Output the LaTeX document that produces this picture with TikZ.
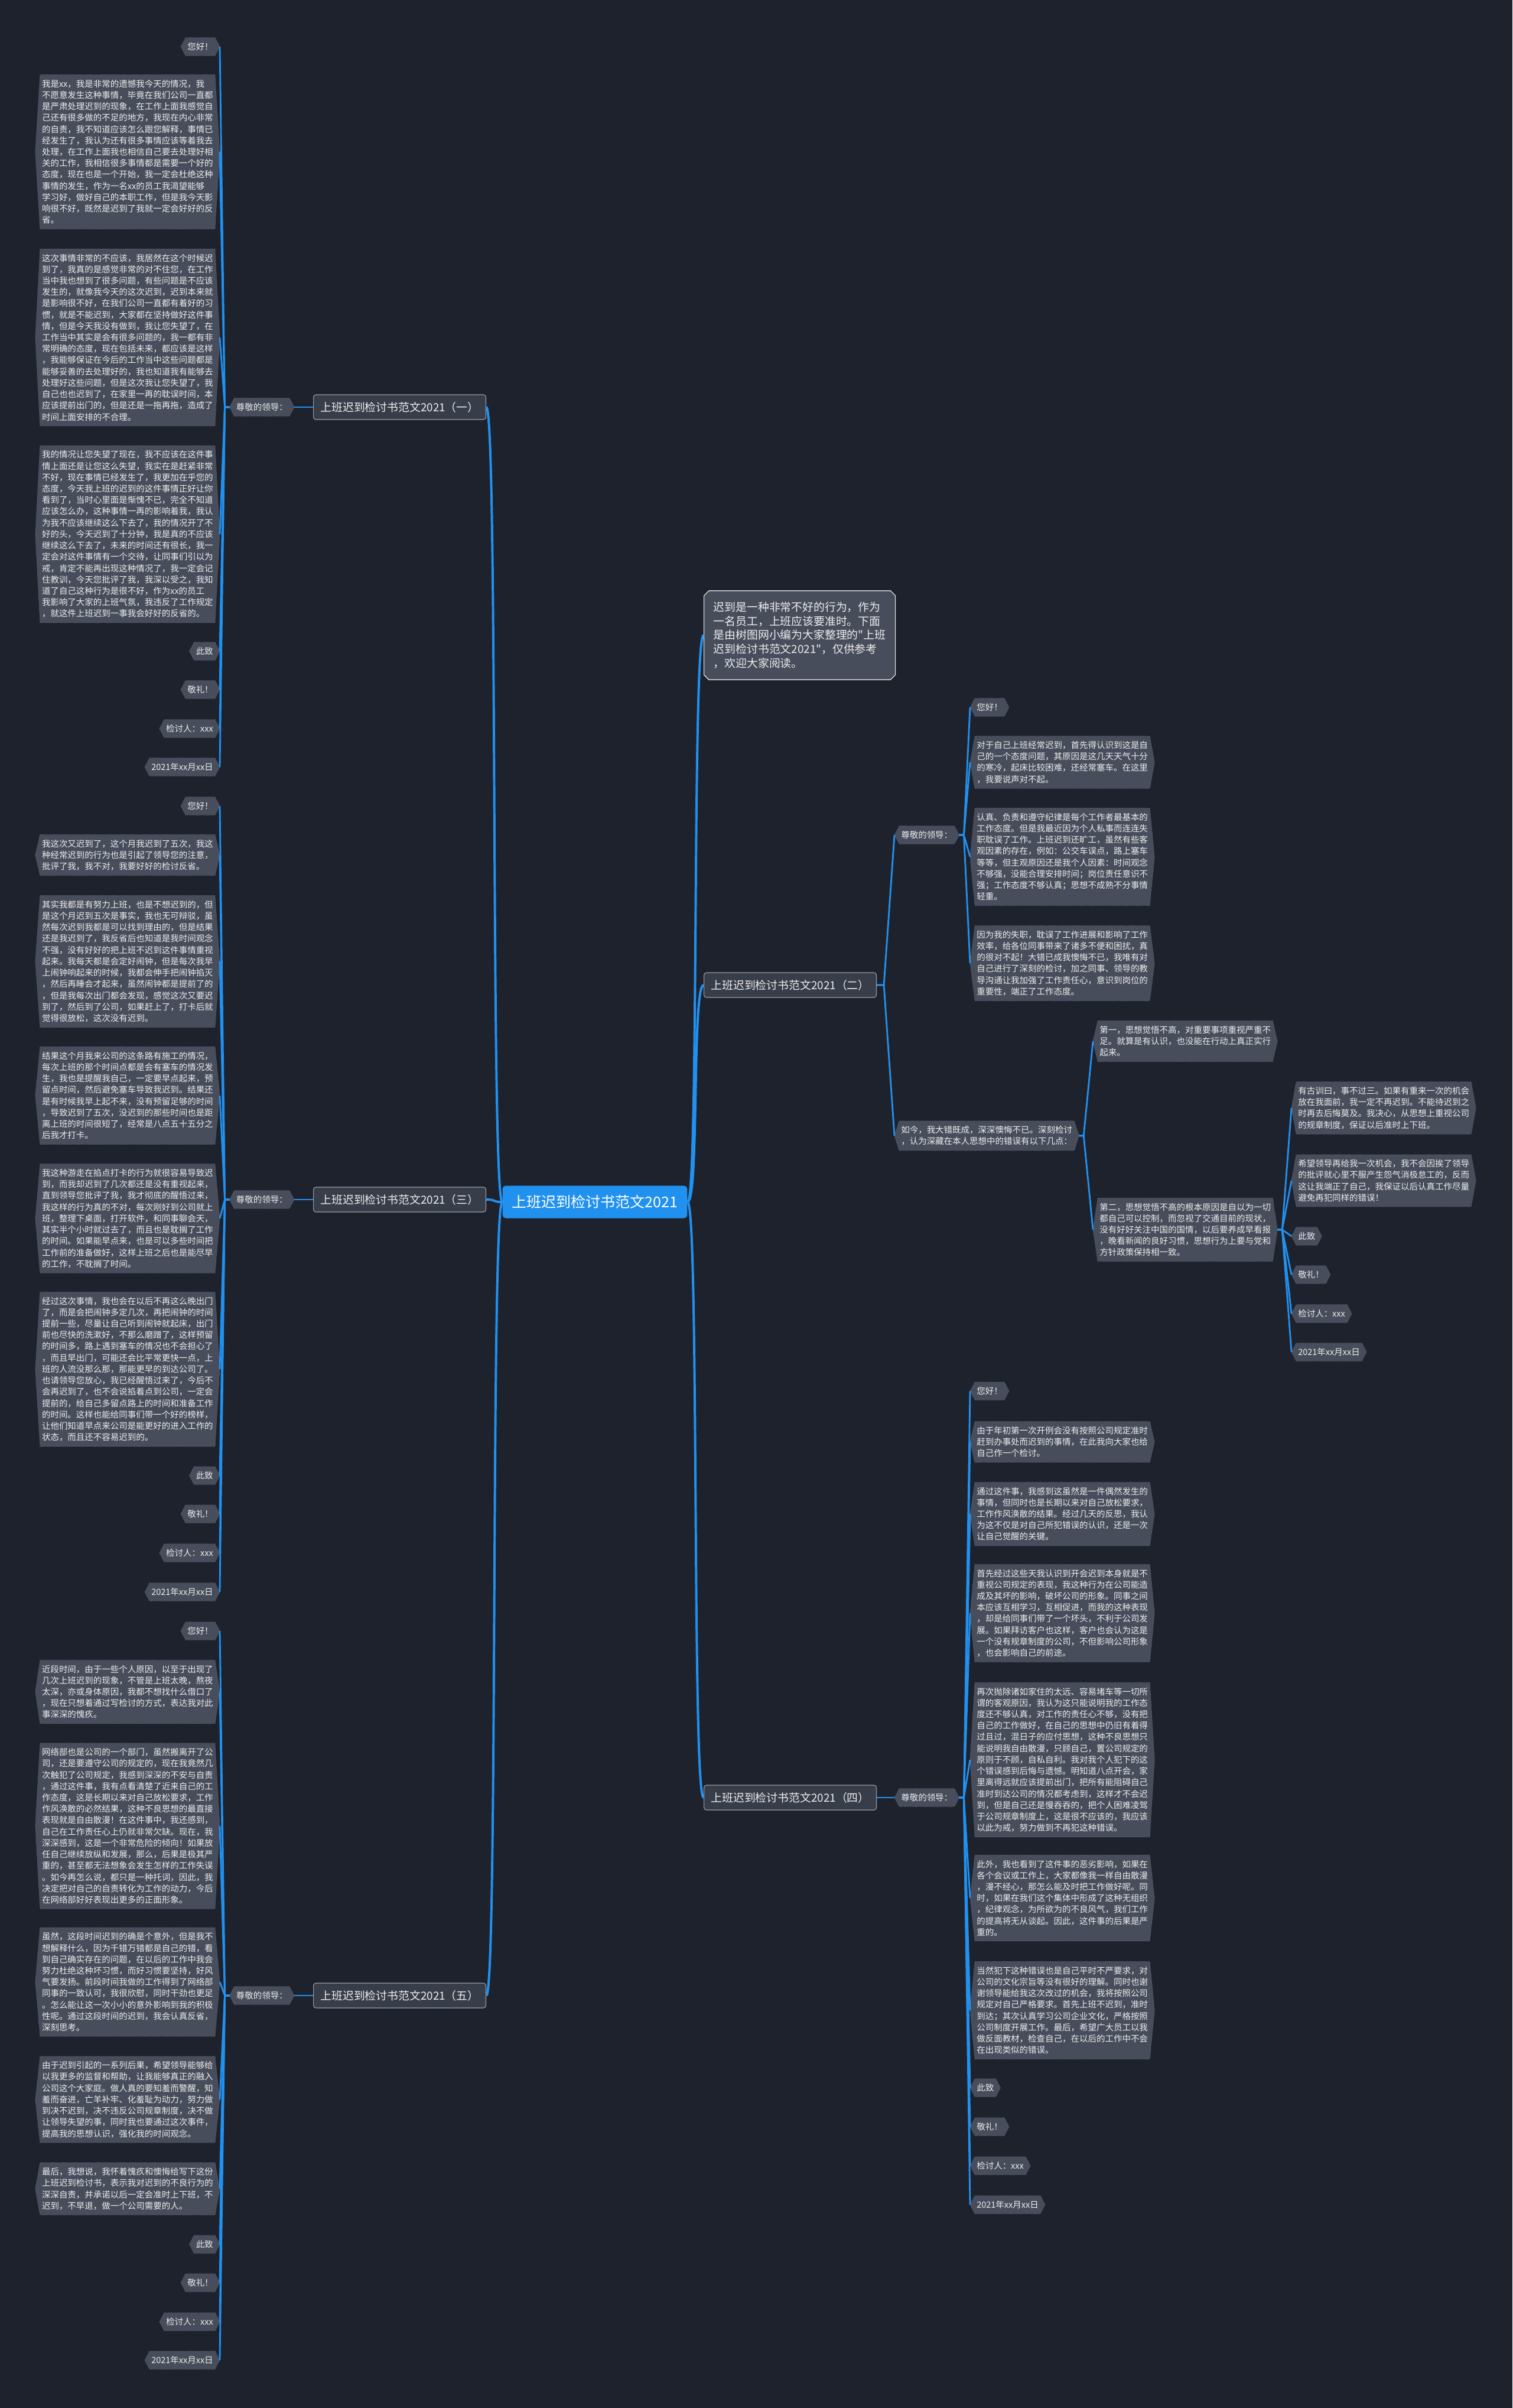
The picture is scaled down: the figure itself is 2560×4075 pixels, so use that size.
\documentclass[tikz,border=0pt]{standalone}
\usepackage{fontspec}
\newfontfamily\cjk{Noto Sans CJK SC}
\usetikzlibrary{backgrounds,shapes.misc}
\definecolor{bgc}{RGB}{30,34,45}
\definecolor{leafc}{RGB}{71,77,91}
\definecolor{leafedge}{RGB}{105,111,125}
\definecolor{linkc}{RGB}{33,145,240}
\definecolor{topicc}{RGB}{56,61,74}
\definecolor{topicedge}{RGB}{150,156,168}
\definecolor{txtc}{RGB}{238,238,238}
\newcommand\leaffont{\cjk\fontsize{10.3pt}{13.66pt}\selectfont}
\newcommand\topicfont{\cjk\fontsize{13.4pt}{16.9pt}\selectfont}
\newcommand\rootfont{\cjk\fontsize{17.8pt}{21pt}\selectfont}
\tikzset{
  leaf/.style={font=\leaffont,text=txtc,align=left,inner xsep=0.75mm,inner ysep=5.9pt},
  lleaf/.style={leaf,anchor=east},
  rleaf/.style={leaf,anchor=west},
  topic/.style={font=\topicfont,text=txtc,fill=topicc,draw=topicedge,line width=0.8pt,rounded corners=3pt,inner xsep=3mm,minimum height=1.05cm},
  intro/.style={font=\topicfont,text=txtc,fill=leafc,draw=txtc,line width=0.8pt,align=left,chamfered rectangle,chamfered rectangle xsep=3pt,inner xsep=3mm,inner ysep=10.5pt},
  root/.style={font=\rootfont,text=white,fill=linkc,rounded corners=4pt,inner xsep=4mm,minimum height=1.375cm},
  link/.style={draw=linkc,line width=2pt},
  trunk/.style={draw=linkc,line width=2.8pt},
  hexbody/.style={fill=leafc,draw=leafedge,densely dotted,line width=0.5pt}
}
\begin{document}
\begin{tikzpicture}[x=0.025cm,y=-0.025cm]
  \useasboundingbox (0,0) rectangle (2560,4075);

  \node[root] (root) at (1007,2034) {上班迟到检讨书范文2021};

  % 范文（一）
  \node[topic,anchor=west] (b1) at (530,689) {上班迟到检讨书范文2021（一）};
  \node[lleaf] (z1) at (490,689) {尊敬的领导：};
  \node[lleaf] (hi1) at (364,79) {您好！};
  \node[lleaf] (p1a) at (364,257) {我是xx，我是非常的遗憾我今天的情况，我\\不愿意发生这种事情，毕竟在我们公司一直都\\是严肃处理迟到的现象，在工作上面我感觉自\\己还有很多做的不足的地方，我现在内心非常\\的自责，我不知道应该怎么跟您解释，事情已\\经发生了，我认为还有很多事情应该等着我去\\处理，在工作上面我也相信自己要去处理好相\\关的工作，我相信很多事情都是需要一个好的\\态度，现在也是一个开始，我一定会杜绝这种\\事情的发生，作为一名xx的员工我渴望能够\\学习好，做好自己的本职工作，但是我今天影\\响很不好，既然是迟到了我就一定会好好的反\\省。};
  \node[lleaf] (p1b) at (364,571) {这次事情非常的不应该，我居然在这个时候迟\\到了，我真的是感觉非常的对不住您，在工作\\当中我也想到了很多问题，有些问题是不应该\\发生的，就像我今天的这次迟到，迟到本来就\\是影响很不好，在我们公司一直都有着好的习\\惯，就是不能迟到，大家都在坚持做好这件事\\情，但是今天我没有做到，我让您失望了，在\\工作当中其实是会有很多问题的，我一都有非\\常明确的态度，现在包括未来，都应该是这样\\，我能够保证在今后的工作当中这些问题都是\\能够妥善的去处理好的，我也知道我有能够去\\处理好这些问题，但是这次我让您失望了，我\\自己也也迟到了，在家里一再的耽误时间，本\\应该提前出门的，但是还是一拖再拖，造成了\\时间上面安排的不合理。};
  \node[lleaf] (p1c) at (364,904) {我的情况让您失望了现在，我不应该在这件事\\情上面还是让您这么失望，我实在是赶紧非常\\不好，现在事情已经发生了，我更加在乎您的\\态度，今天我上班的迟到的这件事情正好让你\\看到了，当时心里面是惭愧不已，完全不知道\\应该怎么办，这种事情一再的影响着我，我认\\为我不应该继续这么下去了，我的情况开了不\\好的头，今天迟到了十分钟，我是真的不应该\\继续这么下去了，未来的时间还有很长，我一\\定会对这件事情有一个交待，让同事们引以为\\戒，肯定不能再出现这种情况了，我一定会记\\住教训，今天您批评了我，我深以受之，我知\\道了自己这种行为是很不好，作为xx的员工\\我影响了大家的上班气氛，我违反了工作规定\\，就这件上班迟到一事我会好好的反省的。};
  \node[lleaf] (cz1) at (364,1102) {此致};
  \node[lleaf] (jl1) at (364,1167) {敬礼！};
  \node[lleaf] (jt1) at (364,1233) {检讨人：xxx};
  \node[lleaf] (dt1) at (364,1298) {2021年xx月xx日};

  % 范文（三）
  \node[topic,anchor=west] (b3) at (530,2030) {上班迟到检讨书范文2021（三）};
  \node[lleaf] (z3) at (490,2030) {尊敬的领导：};
  \node[lleaf] (hi3) at (364,1364) {您好！};
  \node[lleaf] (p3a) at (364,1447) {我这次又迟到了，这个月我迟到了五次，我这\\种经常迟到的行为也是引起了领导您的注意，\\批评了我，我不对，我要好好的检讨反省。};
  \node[lleaf] (p3b) at (364,1627) {其实我都是有努力上班，也是不想迟到的，但\\是这个月迟到五次是事实，我也无可辩驳，虽\\然每次迟到我都是可以找到理由的，但是结果\\还是我迟到了，我反省后也知道是我时间观念\\不强，没有好好的把上班不迟到这件事情重视\\起来。我每天都是会定好闹钟，但是每次我早\\上闹钟响起来的时候，我都会伸手把闹钟掐灭\\，然后再睡会才起来，虽然闹钟都是提前了的\\，但是我每次出门都会发现，感觉这次又要迟\\到了，然后到了公司，如果赶上了，打卡后就\\觉得很放松，这次没有迟到。};
  \node[lleaf] (p3c) at (364,1854) {结果这个月我来公司的这条路有施工的情况，\\每次上班的那个时间点都是会有塞车的情况发\\生，我也是提醒我自己，一定要早点起来，预\\留点时间，然后避免塞车导致我迟到。结果还\\是有时候我早上起不来，没有预留足够的时间\\，导致迟到了五次，没迟到的那些时间也是距\\离上班的时间很短了，经常是八点五十五分之\\后我才打卡。};
  \node[lleaf] (p3d) at (364,2062) {我这种游走在掐点打卡的行为就很容易导致迟\\到，而我却迟到了几次都还是没有重视起来，\\直到领导您批评了我，我才彻底的醒悟过来，\\我这样的行为真的不对，每次刚好到公司就上\\班，整理下桌面，打开软件，和同事聊会天，\\其实半个小时就过去了，而且也是耽搁了工作\\的时间。如果能早点来，也是可以多些时间把\\工作前的准备做好，这样上班之后也是能尽早\\的工作，不耽搁了时间。};
  \node[lleaf] (p3e) at (364,2317) {经过这次事情，我也会在以后不再这么晚出门\\了，而是会把闹钟多定几次，再把闹钟的时间\\提前一些，尽量让自己听到闹钟就起床，出门\\前也尽快的洗漱好，不那么磨蹭了，这样预留\\的时间多，路上遇到塞车的情况也不会担心了\\，而且早出门，可能还会比平常更快一点，上\\班的人流没那么那，那能更早的到达公司了。\\也请领导您放心，我已经醒悟过来了，今后不\\会再迟到了，也不会说掐着点到公司，一定会\\提前的，给自己多留点路上的时间和准备工作\\的时间。这样也能给同事们带一个好的榜样，\\让他们知道早点来公司是能更好的进入工作的\\状态，而且还不容易迟到的。};
  \node[lleaf] (cz3) at (364,2497) {此致};
  \node[lleaf] (jl3) at (364,2562) {敬礼！};
  \node[lleaf] (jt3) at (364,2628) {检讨人：xxx};
  \node[lleaf] (dt3) at (364,2694) {2021年xx月xx日};

  % 范文（五）
  \node[topic,anchor=west] (b5) at (530,3377) {上班迟到检讨书范文2021（五）};
  \node[lleaf] (z5) at (490,3377) {尊敬的领导：};
  \node[lleaf] (hi5) at (364,2760) {您好！};
  \node[lleaf] (p5a) at (364,2863) {近段时间，由于一些个人原因，以至于出现了\\几次上班迟到的现象，不管是上班太晚，熬夜\\太深，亦或身体原因，我都不想找什么借口了\\，现在只想着通过写检讨的方式，表达我对此\\事深深的愧疚。};
  \node[lleaf] (p5b) at (364,3090) {网络部也是公司的一个部门，虽然搬离开了公\\司，还是要遵守公司的规定的，现在我竟然几\\次触犯了公司规定，我感到深深的不安与自责\\，通过这件事，我有点看清楚了近来自己的工\\作态度，这是长期以来对自己放松要求，工作\\作风涣散的必然结果，这种不良思想的最直接\\表现就是自由散漫！在这件事中，我还感到，\\自己在工作责任心上仍就非常欠缺。现在，我\\深深感到，这是一个非常危险的倾向！如果放\\任自己继续放纵和发展，那么，后果是极其严\\重的，甚至都无法想象会发生怎样的工作失误\\。如今再怎么说，都只是一种托词，因此，我\\决定把对自己的自责转化为工作的动力，今后\\在网络部好好表现出更多的正面形象。};
  \node[lleaf] (p5c) at (364,3354) {虽然，这段时间迟到的确是个意外，但是我不\\想解释什么，因为千错万错都是自己的错，看\\到自己确实存在的问题，在以后的工作中我会\\努力杜绝这种坏习惯，而好习惯要坚持，好风\\气要发扬。前段时间我做的工作得到了网络部\\同事的一致认可，我很欣慰，同时干劲也更足\\。怎么能让这一次小小的意外影响到我的积极\\性呢。通过这段时间的迟到，我会认真反省，\\深刻思考。};
  \node[lleaf] (p5d) at (364,3553) {由于迟到引起的一系列后果，希望领导能够给\\以我更多的监督和帮助，让我能够真正的融入\\公司这个大家庭。做人真的要知羞而警醒，知\\羞而奋进，亡羊补牢、化羞耻为动力，努力做\\到决不迟到，决不违反公司规章制度，决不做\\让领导失望的事，同时我也要通过这次事件，\\提高我的思想认识，强化我的时间观念。};
  \node[lleaf] (p5e) at (364,3704) {最后，我想说，我怀着愧疚和懊悔给写下这份\\上班迟到检讨书，表示我对迟到的不良行为的\\深深自责，并承诺以后一定会准时上下班，不\\迟到，不早退，做一个公司需要的人。};
  \node[lleaf] (cz5) at (364,3798) {此致};
  \node[lleaf] (jl5) at (364,3863) {敬礼！};
  \node[lleaf] (jt5) at (364,3929) {检讨人：xxx};
  \node[lleaf] (dt5) at (364,3994) {2021年xx月xx日};

  % 引言
  \node[intro,anchor=west] (intro) at (1191,1075) {迟到是一种非常不好的行为，作为\\一名员工，上班应该要准时。下面\\是由树图网小编为大家整理的"上班\\迟到检讨书范文2021"，仅供参考\\，欢迎大家阅读。};

  % 范文（二）
  \node[topic,anchor=west] (b2) at (1191,1667) {上班迟到检讨书范文2021（二）};
  \node[rleaf] (z2) at (1522,1413) {尊敬的领导：};
  \node[rleaf] (hi2) at (1650,1197) {您好！};
  \node[rleaf] (p2a) at (1650,1290) {对于自己上班经常迟到，首先得认识到这是自\\己的一个态度问题，其原因是这几天天气十分\\的寒冷，起床比较困难，还经常塞车。在这里\\，我要说声对不起。};
  \node[rleaf] (p2b) at (1650,1450) {认真、负责和遵守纪律是每个工作者最基本的\\工作态度。但是我最近因为个人私事而连连失\\职耽误了工作。上班迟到还旷工，虽然有些客\\观因素的存在，例如：公交车误点，路上塞车\\等等，但主观原因还是我个人因素：时间观念\\不够强，没能合理安排时间；岗位责任意识不\\强；工作态度不够认真；思想不成熟不分事情\\轻重。};
  \node[rleaf] (p2c) at (1650,1630) {因为我的失职，耽误了工作进展和影响了工作\\效率，给各位同事带来了诸多不便和困扰，真\\的很对不起！大错已成我懊悔不已，我唯有对\\自己进行了深刻的检讨，加之同事、领导的教\\导沟通让我加强了工作责任心，意识到岗位的\\重要性，端正了工作态度。};
  \node[rleaf] (now2) at (1522,1922) {如今，我大错既成，深深懊悔不已。深刻检讨\\，认为深藏在本人思想中的错误有以下几点：};
  \node[rleaf] (pt1) at (1858,1762) {第一，思想觉悟不高，对重要事项重视严重不\\足。就算是有认识，也没能在行动上真正实行\\起来。};
  \node[rleaf] (pt2) at (1858,2081) {第二，思想觉悟不高的根本原因是自以为一切\\都自己可以控制，而忽视了交通目前的现状，\\没有好好关注中国的国情，以后要养成早看报\\，晚看新闻的良好习惯，思想行为上要与党和\\方针政策保持相一致。};
  \node[rleaf] (q2a) at (2194,1875) {有古训曰，事不过三。如果有重来一次的机会\\放在我面前，我一定不再迟到。不能待迟到之\\时再去后悔莫及。我决心，从思想上重视公司\\的规章制度，保证以后准时上下班。};
  \node[rleaf] (q2b) at (2194,1998) {希望领导再给我一次机会，我不会因挨了领导\\的批评就心里不服产生怨气消极怠工的，反而\\这让我端正了自己，我保证以后认真工作尽量\\避免再犯同样的错误！};
  \node[rleaf] (cz2) at (2194,2092) {此致};
  \node[rleaf] (jl2) at (2194,2157) {敬礼！};
  \node[rleaf] (jt2) at (2194,2223) {检讨人：xxx};
  \node[rleaf] (dt2) at (2194,2288) {2021年xx月xx日};

  % 范文（四）
  \node[topic,anchor=west] (b4) at (1191,3042) {上班迟到检讨书范文2021（四）};
  \node[rleaf] (z4) at (1522,3042) {尊敬的领导：};
  \node[rleaf] (hi4) at (1650,2354) {您好！};
  \node[rleaf] (p4a) at (1650,2440) {由于年初第一次开例会没有按照公司规定准时\\赶到办事处而迟到的事情，在此我向大家也给\\自己作一个检讨。};
  \node[rleaf] (p4b) at (1650,2562) {通过这件事，我感到这虽然是一件偶然发生的\\事情，但同时也是长期以来对自己放松要求，\\工作作风涣散的结果。经过几天的反思，我认\\为这不仅是对自己所犯错误的认识，还是一次\\让自己觉醒的关键。};
  \node[rleaf] (p4c) at (1650,2730) {首先经过这些天我认识到开会迟到本身就是不\\重视公司规定的表现，我这种行为在公司能造\\成及其坏的影响，破坏公司的形象。同事之间\\本应该互相学习，互相促进，而我的这种表现\\，却是给同事们带了一个坏头，不利于公司发\\展。如果拜访客户也这样，客户也会认为这是\\一个没有规章制度的公司，不但影响公司形象\\，也会影响自己的前途。};
  \node[rleaf] (p4d) at (1650,2978) {再次抛除诸如家住的太远、容易堵车等一切所\\谓的客观原因，我认为这只能说明我的工作态\\度还不够认真，对工作的责任心不够，没有把\\自己的工作做好，在自己的思想中仍旧有着得\\过且过，混日子的应付思想，这种不良思想只\\能说明我自由散漫，只顾自己，置公司规定的\\原则于不顾，自私自利。我对我个人犯下的这\\个错误感到后悔与遗憾。明知道八点开会，家\\里离得远就应该提前出门，把所有能阻碍自己\\准时到达公司的情况都考虑到，这样才不会迟\\到，但是自己还是慢吞吞的，把个人困难凌驾\\于公司规章制度上，这是很不应该的，我应该\\以此为戒，努力做到不再犯这种错误。};
  \node[rleaf] (p4e) at (1650,3212) {此外，我也看到了这件事的恶劣影响，如果在\\各个会议或工作上，大家都像我一样自由散漫\\，漫不经心，那怎么能及时把工作做好呢。同\\时，如果在我们这个集体中形成了这种无组织\\，纪律观念，为所欲为的不良风气，我们工作\\的提高将无从谈起。因此，这件事的后果是严\\重的。};
  \node[rleaf] (p4f) at (1650,3402) {当然犯下这种错误也是自己平时不严要求，对\\公司的文化宗旨等没有很好的理解。同时也谢\\谢领导能给我这次改过的机会，我将按照公司\\规定对自己严格要求。首先上班不迟到，准时\\到达；其次认真学习公司企业文化，严格按照\\公司制度开展工作。最后，希望广大员工以我\\做反面教材，检查自己，在以后的工作中不会\\在出现类似的错误。};
  \node[rleaf] (cz4) at (1650,3533) {此致};
  \node[rleaf] (jl4) at (1650,3599) {敬礼！};
  \node[rleaf] (jt4) at (1650,3665) {检讨人：xxx};
  \node[rleaf] (dt4) at (1650,3731) {2021年xx月xx日};

  % 主干
  \draw[trunk] (root.west) .. controls +(-20,0) and +(20,0) .. (b1.east);
  \draw[trunk] (root.west) .. controls +(-20,0) and +(20,0) .. (b3.east);
  \draw[trunk] (root.west) .. controls +(-20,0) and +(20,0) .. (b5.east);
  \draw[trunk] (root.east) .. controls +(20,0) and +(-20,0) .. (intro.west);
  \draw[trunk] (root.east) .. controls +(20,0) and +(-20,0) .. (b2.west);
  \draw[trunk] (root.east) .. controls +(20,0) and +(-20,0) .. (b4.west);

  % 分支
  \draw[link] (b1.west) -- ([xshift=2mm]z1.east);
  \draw[link] (b3.west) -- ([xshift=2mm]z3.east);
  \draw[link] (b5.west) -- ([xshift=2mm]z5.east);
  \draw[link] (b4.east) -- ([xshift=-2mm]z4.west);
  \draw[link] (b2.east) -- ++(12,0) -- ([xshift=-2mm]z2.west);
  \draw[link] (b2.east) -- ++(12,0) -- ([xshift=-2mm]now2.west);
  \foreach \n in {hi1,p1a,p1b,p1c,cz1,jl1,jt1,dt1}
    \draw[link] ([xshift=-2mm]z1.west) -- ++(-8,0) -- ([xshift=2mm]\n.east);
  \foreach \n in {hi3,p3a,p3b,p3c,p3d,p3e,cz3,jl3,jt3,dt3}
    \draw[link] ([xshift=-2mm]z3.west) -- ++(-8,0) -- ([xshift=2mm]\n.east);
  \foreach \n in {hi5,p5a,p5b,p5c,p5d,p5e,cz5,jl5,jt5,dt5}
    \draw[link] ([xshift=-2mm]z5.west) -- ++(-8,0) -- ([xshift=2mm]\n.east);
  \foreach \n in {hi2,p2a,p2b,p2c}
    \draw[link] ([xshift=2mm]z2.east) -- ++(8,0) -- ([xshift=-2mm]\n.west);
  \foreach \n in {pt1,pt2}
    \draw[link] ([xshift=2mm]now2.east) -- ++(8,0) -- ([xshift=-2mm]\n.west);
  \foreach \n in {q2a,q2b,cz2,jl2,jt2,dt2}
    \draw[link] ([xshift=2mm]pt2.east) -- ++(8,0) -- ([xshift=-2mm]\n.west);
  \foreach \n in {hi4,p4a,p4b,p4c,p4d,p4e,p4f,cz4,jl4,jt4,dt4}
    \draw[link] ([xshift=2mm]z4.east) -- ++(8,0) -- ([xshift=-2mm]\n.west);

  \begin{scope}[on background layer]
    \fill[bgc] (0,0) rectangle (2560,4075);
    \foreach \n in {z1,hi1,p1a,p1b,p1c,cz1,jl1,jt1,dt1,
                    z3,hi3,p3a,p3b,p3c,p3d,p3e,cz3,jl3,jt3,dt3,
                    z5,hi5,p5a,p5b,p5c,p5d,p5e,cz5,jl5,jt5,dt5,
                    z2,hi2,p2a,p2b,p2c,now2,pt1,pt2,q2a,q2b,cz2,jl2,jt2,dt2,
                    z4,hi4,p4a,p4b,p4c,p4d,p4e,p4f,cz4,jl4,jt4,dt4}
      \filldraw[hexbody] ([xshift=-2mm]\n.west) -- (\n.north west) -- (\n.north east)
        -- ([xshift=2mm]\n.east) -- (\n.south east) -- (\n.south west) -- cycle;
  \end{scope}

\end{tikzpicture}
\end{document}
